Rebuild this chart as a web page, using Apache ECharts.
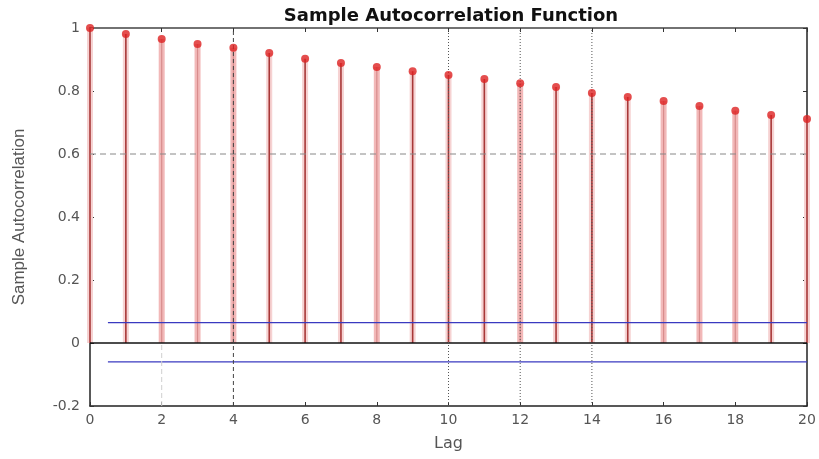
<!DOCTYPE html>
<html><head><meta charset="utf-8">
<script src="https://cdn.jsdelivr.net/npm/echarts@6/dist/echarts.min.js"></script>
<style>html,body{margin:0;padding:0;background:#fff}#c{width:819px;height:459px}</style>
</head><body><div id="c"></div>
<script>
var lags = [0,1,2,3,4,5,6,7,8,9,10,11,12,13,14,15,16,17,18,19,20];
var acf = [1.0,0.981,0.965,0.949,0.937,0.921,0.902,0.889,0.876,0.863,0.851,0.838,0.825,0.813,0.794,0.781,0.768,0.752,0.737,0.724,0.711];
var fadedLags = [2,3,4,8,12,16,17,18];
var confUpper = 0.065;
var confLower = -0.06;
var confStart = 0.5;

var stemData = lags.map(function(l,i){return [l, acf[i]];});
var chart = echarts.init(document.getElementById('c'));
function vline(x, y0, y1, color, type){
  return {type:'line', data:[[x,y0],[x,y1]], symbol:'none', silent:true, z:5,
    lineStyle:{color:color, width:1, type:type}};
}
function hline(y, x0, x1, color, type, w){
  return {type:'line', data:[[x0,y],[x1,y]], symbol:'none', silent:true, z:4,
    lineStyle:{color:color, width:w||1, type:type}};
}
function axisLine(color){ return {show:true, onZero:false, lineStyle:{color:color, width:1.5}}; }
var tick = {show:true, inside:true, length:4, lineStyle:{color:'#333'}};
var lab = {fontFamily:'DejaVu Sans', fontSize:14, color:'#555'};
chart.setOption({
  animation:false,
  backgroundColor:'#fff',
  title:{text:'Sample Autocorrelation Function', left:446, top:2, textAlign:'center',
    textStyle:{fontFamily:'DejaVu Sans', fontWeight:'bold', fontSize:18, color:'#111'}},
  grid:{left:90, right:12, top:28, bottom:53},
  xAxis:[
    {type:'value', min:0, max:20, interval:2, position:'bottom',
      name:'Lag', nameLocation:'middle', nameGap:30,
      nameTextStyle:{fontFamily:'DejaVu Sans', fontSize:16, color:'#555'},
      axisLine:axisLine('#222'), axisTick:tick, splitLine:{show:false},
      axisLabel:Object.assign({margin:7}, lab)},
    {type:'value', min:0, max:20, interval:2, position:'top',
      axisLine:axisLine('#444'), axisTick:tick, splitLine:{show:false},
      axisLabel:{show:false}}
  ],
  yAxis:[
    {type:'value', min:-0.2, max:1, interval:0.2, position:'left',
      name:'Sample Autocorrelation', nameLocation:'middle', nameGap:62, nameRotate:90,
      nameTextStyle:{fontFamily:'Liberation Sans', fontSize:17, color:'#555'},
      axisLine:axisLine('#222'), axisTick:tick, splitLine:{show:false},
      axisLabel:Object.assign({margin:10,
        formatter:function(v){return String(Math.round(v*10)/10);}}, lab)},
    {type:'value', min:-0.2, max:1, interval:0.2, position:'right',
      axisLine:axisLine('#222'), axisTick:tick, splitLine:{show:false},
      axisLabel:{show:false}}
  ],
  series:[
    hline(0.6, 0, 20, '#888', [6,4], 1),
    hline(0, 0, 20, '#111', 'solid', 1.5),
    {type:'custom', z:3, data:stemData,
      renderItem:function(params, api){
        var x = api.value(0), y = api.value(1);
        var top = api.coord([x,y]), bot = api.coord([x,0]);
        var faded = fadedLags.indexOf(x) >= 0;
        var children = [{type:'rect', shape:{x:top[0]-3, y:top[1], width:6, height:bot[1]-top[1]},
          style:{fill: faded ? '#f2b8b8' : '#f6d2d2'}}];
        children.push({type:'line', shape:{x1:top[0], y1:top[1], x2:bot[0], y2:bot[1]},
          style:{stroke: faded ? '#d88c8c' : '#a83838', lineWidth: faded ? 1.2 : 1.6}});
        return {type:'group', children:children};
      }},
    vline(2, -0.2, 0, '#cfcfcf', [5,3]),
    vline(4, -0.2, 1, '#444', [4,3]),
    vline(10, -0.2, 1, '#555', [1,2]),
    vline(12, -0.2, 1, '#555', [1,2]),
    vline(14, -0.2, 1, '#555', [1,2]),
    hline(confUpper, confStart, 20, '#3a3ac0', 'solid', 1.2),
    hline(confLower, confStart, 20, '#3a3ac0', 'solid', 1.2),
    {type:'scatter', data:stemData, symbol:'circle', symbolSize:8, z:6,
      itemStyle:{color:'#dd2222'}}
  ]
});
</script></body></html>
